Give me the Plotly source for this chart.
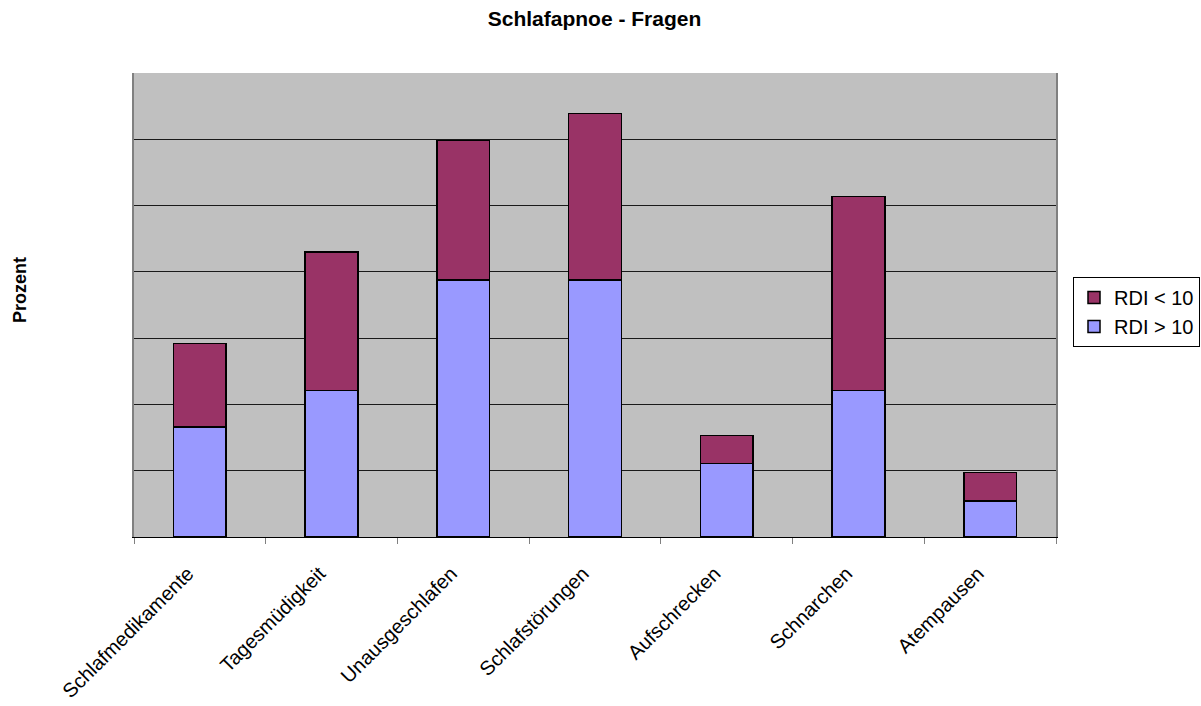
import plotly.graph_objects as go

# Survey categories and stacked shares (percent) per RDI group
categories = ["Schlafmedikamente", "Tagesmüdigkeit", "Unausgeschlafen",
              "Schlafstörungen", "Aufschrecken", "Schnarchen", "Atempausen"]
rdi_over_10 = [16.6, 22.1, 38.8, 38.8, 11.1, 22.1, 5.4]
rdi_under_10 = [12.6, 20.9, 21.0, 25.1, 4.2, 29.3, 4.3]

FONT = "Liberation Sans, Arial, sans-serif"
W, H = 1201, 706

fig = go.Figure()
fig.add_trace(go.Bar(
    x=categories, y=rdi_over_10, name="RDI > 10",
    marker=dict(color="#9999FF", line=dict(color="#000000", width=1.5)),
    width=0.4,
))
fig.add_trace(go.Bar(
    x=categories, y=rdi_under_10, name="RDI < 10",
    marker=dict(color="#993366", line=dict(color="#000000", width=1.5)),
    width=0.4,
))

fig.update_layout(
    width=W, height=H,
    barmode="stack",
    paper_bgcolor="#FFFFFF",
    plot_bgcolor="#C0C0C0",
    margin=dict(l=134, r=145, t=73, b=169, autoexpand=False),
    font=dict(family=FONT, color="#000000"),
    title=dict(text="<b>Schlafapnoe - Fragen</b>", x=594.5 / W, xanchor="center",
               y=1 - 19 / H, yanchor="middle",
               font=dict(family=FONT, size=21, color="#000000")),
    legend=dict(
        xref="container", yref="container",
        x=1200 / W, y=1 - 277 / H, xanchor="right", yanchor="top",
        traceorder="reversed", itemwidth=30,
        bordercolor="#000000", borderwidth=1, bgcolor="#FFFFFF",
        font=dict(family=FONT, size=20, color="#000000"),
    ),
    showlegend=True,
    annotations=[dict(
        text="<b>Prozent</b>", textangle=-90,
        xref="paper", yref="paper",
        x=(20 - 134) / (W - 134 - 145), y=(H - 169 - 290) / (H - 73 - 169),
        xanchor="center", yanchor="middle", showarrow=False,
        font=dict(family=FONT, size=18, color="#000000"),
    )],
)

fig.update_xaxes(
    automargin=False,
    showgrid=False, showline=True, linecolor="#000000", linewidth=1,
    ticks="outside", ticklen=6, tickcolor="#808080",
    tickson="boundaries", tickangle=-45,
    tickfont=dict(family=FONT, size=20, color="#000000"),
    ticklabelstandoff=16, ticklabelshift=-12,
    mirror=False,
)
fig.update_yaxes(
    automargin=False,
    range=[0, 70], dtick=10, showticklabels=False,
    showgrid=True, gridcolor="#1a1a1a", gridwidth=1,
    showline=True, linecolor="#808080", linewidth=2, mirror=True,
    zeroline=False, ticks="",
)

fig.write_html("out.html")
